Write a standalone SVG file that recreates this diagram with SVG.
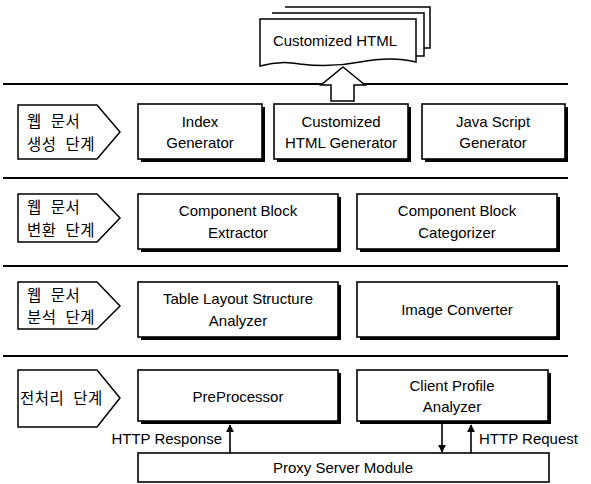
<svg xmlns="http://www.w3.org/2000/svg" width="591" height="484" viewBox="0 0 591 484">
<defs>
<style>
.bx{fill:#fff;stroke:#000;stroke-width:1.6}
.sh{fill:#000}
.pg{fill:#fff;stroke:#000;stroke-width:1.5}
.t{font-family:"Liberation Sans",Arial,sans-serif;font-size:15px;fill:#000;text-anchor:middle}
.k{font-family:"Noto Sans CJK KR","Noto Sans",sans-serif;font-size:15.5px;fill:#000;letter-spacing:0.5px;word-spacing:5px}
.sep{stroke:#000;stroke-width:2}
.ln{stroke:#000;stroke-width:1.6;fill:none}
</style>
<marker id="ah" viewBox="0 0 10 10" refX="9" refY="5" markerWidth="5" markerHeight="5" orient="auto-start-reverse"><path d="M0,0 L10,5 L0,10 Z" fill="#000"/></marker>
</defs>
<rect width="591" height="484" fill="#fff"/>

<g id="output-doc">
<path class="pg" d="M285,7 H430 V48 H422"/>
<path class="pg" d="M272,13 H424 V56 H416"/>
<path class="pg" d="M260,19 H416 V62 Q392,56 360,62 Q330,68 300,64 Q280,60 260,66 Z"/>
<text class="t" x="335" y="46" font-size="14">Customized HTML</text>
</g>

<g id="separators">
<line class="sep" x1="3" y1="84" x2="568" y2="84"/>
<line class="sep" x1="3" y1="178" x2="568" y2="178"/>
<line class="sep" x1="3" y1="266" x2="568" y2="266"/>
<line class="sep" x1="3" y1="356" x2="568" y2="356"/>
</g>

<g id="stage-generate">
<path class="pg" d="M18,105 H97 L120,132 L97,159 H18 Z"/>
<text class="k" x="27" y="127">웹 문서</text>
<text class="k" x="27" y="150">생성 단계</text>
</g>
<g id="index-generator">
<rect class="sh" x="141" y="107" width="124" height="55"/>
<rect class="bx" x="138" y="104" width="124" height="55"/>
<text class="t" x="200" y="127">Index</text>
<text class="t" x="200" y="148">Generator</text>
</g>
<g id="customized-html-generator">
<rect class="sh" x="277" y="107" width="134" height="55"/>
<rect class="bx" x="274" y="104" width="134" height="55"/>
<text class="t" x="341" y="127">Customized</text>
<text class="t" x="341" y="148">HTML Generator</text>
</g>
<g id="java-script-generator">
<rect class="sh" x="425" y="107" width="143" height="55"/>
<rect class="bx" x="422" y="104" width="143" height="55"/>
<text class="t" x="493" y="127">Java Script</text>
<text class="t" x="493" y="148">Generator</text>
</g>

<g id="stage-transform">
<path class="pg" d="M18,194 H97 L120,218 L97,242 H18 Z"/>
<text class="k" x="27" y="213">웹 문서</text>
<text class="k" x="27" y="236">변환 단계</text>
</g>
<g id="component-block-extractor">
<rect class="sh" x="141" y="197" width="200" height="55"/>
<rect class="bx" x="138" y="194" width="200" height="55"/>
<text class="t" x="238" y="216">Component Block</text>
<text class="t" x="238" y="238">Extractor</text>
</g>
<g id="component-block-categorizer">
<rect class="sh" x="360" y="197" width="200" height="55"/>
<rect class="bx" x="357" y="194" width="200" height="55"/>
<text class="t" x="457" y="216">Component Block</text>
<text class="t" x="457" y="238">Categorizer</text>
</g>

<g id="stage-analyze">
<path class="pg" d="M18,282 H97 L120,306 L97,329 H18 Z"/>
<text class="k" x="27" y="301">웹 문서</text>
<text class="k" x="27" y="323">분석 단계</text>
</g>
<g id="table-layout-structure-analyzer">
<rect class="sh" x="141" y="285" width="200" height="55"/>
<rect class="bx" x="138" y="282" width="200" height="55"/>
<text class="t" x="238" y="304">Table Layout Structure</text>
<text class="t" x="238" y="326">Analyzer</text>
</g>
<g id="image-converter">
<rect class="sh" x="360" y="285" width="200" height="55"/>
<rect class="bx" x="357" y="282" width="200" height="55"/>
<text class="t" x="457" y="315">Image Converter</text>
</g>

<g id="stage-preprocess">
<path class="pg" d="M18,370 H97 L120,398 L97,427 H18 Z"/>
<text class="k" x="20" y="404">전처리 단계</text>
</g>
<g id="preprocessor">
<rect class="sh" x="141" y="373" width="200" height="51"/>
<rect class="bx" x="138" y="370" width="200" height="51"/>
<text class="t" x="238" y="402">PreProcessor</text>
</g>
<g id="client-profile-analyzer">
<rect class="sh" x="360" y="373" width="191" height="51"/>
<rect class="bx" x="357" y="370" width="191" height="51"/>
<text class="t" x="452" y="391">Client Profile</text>
<text class="t" x="452" y="412">Analyzer</text>
</g>

<g id="proxy-server-module">
<rect class="bx" x="138" y="453" width="411" height="29" stroke-width="1.3"/>
<text class="t" x="343" y="473">Proxy Server Module</text>
</g>

<g id="connectors">
<path class="pg" d="M343,67 L365,85 H354 V101 H331 V85 H321 Z"/>
<line class="ln" x1="230" y1="453" x2="230" y2="425" marker-end="url(#ah)"/>
<line class="ln" x1="442" y1="424" x2="442" y2="452" marker-end="url(#ah)"/>
<line class="ln" x1="471" y1="453" x2="471" y2="425" marker-end="url(#ah)"/>
<text class="t" x="222" y="444" style="text-anchor:end">HTTP Response</text>
<text class="t" x="479" y="444" style="text-anchor:start">HTTP Request</text>
</g>
</svg>
